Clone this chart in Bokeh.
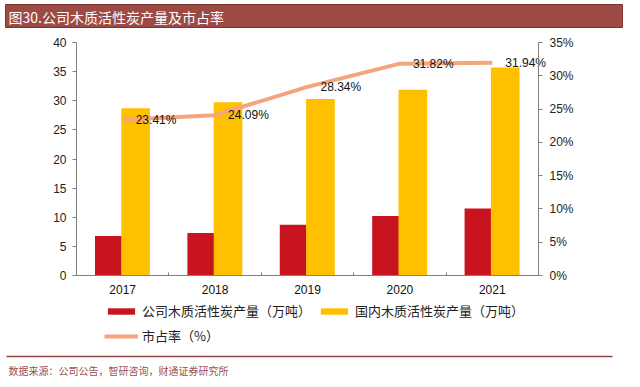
from bokeh.plotting import figure
from bokeh.models import (ColumnDataSource, Range1d, LinearAxis, Legend, LegendItem,
                          FixedTicker, PrintfTickFormatter)
from bokeh.transform import dodge
from bokeh.core.properties import value
from bokeh.embed import file_html
from bokeh.resources import INLINE

# ---- data ----
years = ["2017", "2018", "2019", "2020", "2021"]
company_output = [6.8, 7.3, 8.7, 10.2, 11.5]        # 公司木质活性炭产量（万吨）
domestic_output = [28.7, 29.75, 30.3, 31.9, 35.7]   # 国内木质活性炭产量（万吨）
market_share = [23.41, 24.09, 28.34, 31.82, 31.94]  # 市占率（%）
left_ticks = [0, 5, 10, 15, 20, 25, 30, 35, 40]
right_ticks = [0, 5, 10, 15, 20, 25, 30, 35]

title_text = "图30.公司木质活性炭产量及市占率"
source_text = "数据来源：公司公告，智研咨询，财通证券研究所"
legend_labels = ["公司木质活性炭产量（万吨）", "国内木质活性炭产量（万吨）", "市占率（%）"]

# ---- styling / layout constants ----
RED = "#C8141E"
YELLOW = "#FFC000"
LINE = "#F6A47C"
BRAND = "#9E4A44"
CJK = "Noto Sans CJK SC"
LAT = "Liberation Sans"
AXIS_GREY = "#808080"
W, H = 640, 387
PX_LEFT, PX_RIGHT, PX_TOP, PX_BOTTOM = 76, 538, 42, 275   # plot area in pixels

n = len(years)
ymax_l, ymax_r = left_ticks[-1], right_ticks[-1]
xs = (PX_RIGHT - PX_LEFT) / n            # pixels per category
ys_l = (PX_BOTTOM - PX_TOP) / ymax_l     # pixels per unit, left axis
ys_r = (PX_BOTTOM - PX_TOP) / ymax_r     # pixels per unit, right axis

x0 = -0.5 - PX_LEFT / xs
x1 = x0 + W / xs
y_lo = -(H - PX_BOTTOM) / ys_l
y_hi = ymax_l + PX_TOP / ys_l
r_lo = -(H - PX_BOTTOM) / ys_r
r_hi = ymax_r + PX_TOP / ys_r


def px_x(px):
    return x0 + px / xs


def px_y(py):
    return y_hi - py / ys_l


src = ColumnDataSource(dict(xi=list(range(n)), company=company_output,
                            domestic=domestic_output, share=market_share,
                            lbl=[f"{v:.2f}%" for v in market_share]))

p = figure(width=W, height=H, x_range=Range1d(x0, x1), y_range=Range1d(y_lo, y_hi),
           output_backend="svg", toolbar_location=None, min_border=0)
p.outline_line_color = None
p.grid.visible = False
p.background_fill_color = "white"
p.extra_y_ranges = {"pct": Range1d(r_lo, r_hi)}

# title bar
p.quad(left=[px_x(5)], right=[px_x(622)], top=[px_y(4)], bottom=[px_y(27)],
       fill_color=BRAND, line_color="#7A3530", line_width=1)
p.text(x=[px_x(8)], y=[px_y(16)], text=[title_text], text_color="white",
       text_font=value(CJK), text_font_size="14px", text_baseline="middle",
       text_align="left")

# bars and line
r_red = p.vbar(x=dodge("xi", -0.155), top="company", width=0.29, source=src,
               fill_color=RED, line_color=None)
r_yel = p.vbar(x=dodge("xi", 0.14), top="domestic", width=0.31, source=src,
               fill_color=YELLOW, line_color=None)
r_line = p.line(x="xi", y="share", source=src, y_range_name="pct",
                line_color=LINE, line_width=4)
p.text(x="xi", y="share", text="lbl", source=src, y_range_name="pct",
       x_offset=13, text_align="left", text_baseline="middle",
       text_font=value(LAT), text_font_size="12px", text_color="#111111")

# footer
p.line(x=[px_x(6), px_x(612)], y=[px_y(356), px_y(356)], line_color="#8E4444",
       line_width=1.5)
p.text(x=[px_x(8)], y=[px_y(370)], text=[source_text], text_color="#9B4F4F",
       text_font=value(CJK), text_font_size="10px", text_baseline="middle",
       text_align="left")

# axes (fixed inside the canvas-sized frame)
yl = p.yaxis[0]
yl.fixed_location = -0.5
yl.bounds = (0, ymax_l)
yl.ticker = FixedTicker(ticks=left_ticks)
yl.minor_tick_line_color = None
yl.major_tick_in = 0
yl.major_tick_out = 4
yl.major_label_standoff = 6
yl.axis_line_color = AXIS_GREY
yl.major_tick_line_color = AXIS_GREY
yl.major_label_text_font = LAT
yl.major_label_text_font_size = "12px"
yl.major_label_text_color = "#222222"

yr = LinearAxis(y_range_name="pct", ticker=FixedTicker(ticks=right_ticks),
                formatter=PrintfTickFormatter(format="%d%%"))
yr.fixed_location = n - 0.5
yr.bounds = (0, ymax_r)
yr.minor_tick_line_color = None
yr.major_tick_in = 0
yr.major_tick_out = 4
yr.major_label_standoff = 7
yr.axis_line_color = AXIS_GREY
yr.major_tick_line_color = AXIS_GREY
yr.major_label_text_font = LAT
yr.major_label_text_font_size = "12px"
yr.major_label_text_color = "#222222"
p.add_layout(yr, "right")

xa = p.xaxis[0]
xa.fixed_location = 0
xa.bounds = (-0.5, n - 0.5)
xa.ticker = FixedTicker(ticks=list(range(n)), minor_ticks=[i + 0.5 for i in range(n - 1)])
xa.major_label_overrides = {i: y for i, y in enumerate(years)}
xa.major_tick_line_color = None
xa.major_tick_in = 0
xa.major_tick_out = 0
xa.minor_tick_in = 3
xa.minor_tick_out = 0
xa.minor_tick_line_color = AXIS_GREY
xa.major_label_standoff = 9
xa.axis_line_color = AXIS_GREY
xa.major_label_text_font = LAT
xa.major_label_text_font_size = "12px"
xa.major_label_text_color = "#111111"

legend = Legend(items=[LegendItem(label=legend_labels[0], renderers=[r_red]),
                       LegendItem(label=legend_labels[1], renderers=[r_yel]),
                       LegendItem(label=legend_labels[2], renderers=[r_line])],
                location=(104, H - 345), orientation="horizontal", ncols=2,
                background_fill_alpha=0, border_line_color=None,
                padding=0, margin=0, glyph_width=34, glyph_height=8,
                label_height=18, label_standoff=4, spacing=6,
                label_text_font=CJK, label_text_font_size="13px",
                label_text_color="#222222")
p.add_layout(legend, "center")

open("out.html", "w").write(file_html(p, INLINE))
